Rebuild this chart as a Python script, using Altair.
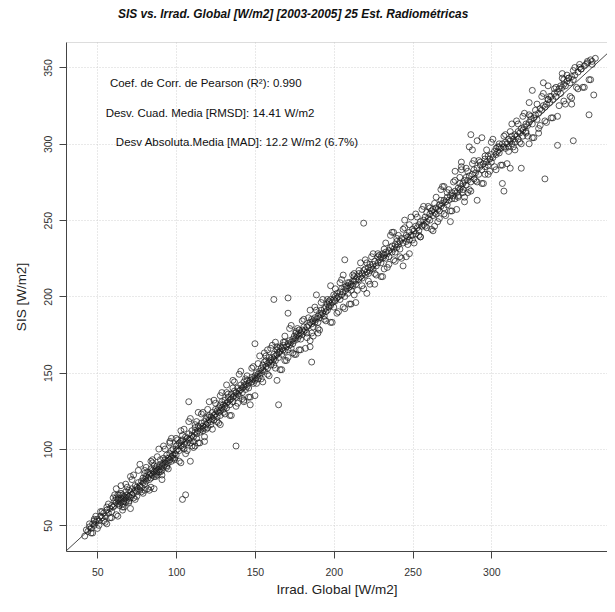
import altair as alt
import pandas as pd

pts_a = [(42,43),(43,47),(44,46),(45,49),(46,48),(47,51),(48,50),(48,53),(49,52),(50,54),(51,53),
         (52,56),(53,55),(54,58),(55,56),(56,51),(56,60),(57,58),(58,61),(59,59),(59,63),(60,62)]
pts_b = [(61,66),(61,63),(62,65),(62,68),(63,64),(63,67),(63,70),(64,66),(64,63),(65,68),(65,65),
         (65,71),(66,67),(66,64),(66,70),(67,66),(67,69),(68,68),(68,65),(68,72),(69,67),(69,70),
         (70,69),(70,66),(70,73),(71,72),(71,68),(72,70),(72,74),(73,71),(73,68),(74,73),(74,76),
         (75,72),(75,75),(76,74),(76,78),(77,73),(77,76),(78,75),(78,79),(62,74),(71,82),(66,60)]
pts_c = [(79,78),(79,81),(80,80),(80,77),(80,84),(81,82),(81,79),(82,81),(82,85),(83,80),(83,83),
         (84,84),(84,81),(84,87),(85,83),(85,86),(86,85),(86,82),(86,89),(87,84),(87,87),(88,86),
         (88,89),(88,83),(89,88),(89,85),(90,87),(90,90),(90,93),(91,89),(91,86),(92,91),(92,88),
         (92,94),(93,90),(93,93),(94,92),(94,89),(94,96),(95,94),(95,91),(96,93),(96,97),(97,95),
         (97,92),(97,99),(98,96),(98,100),(99,97),(99,94),(100,99),(100,102),(100,96),(85,91),
         (80,73),(91,80),(96,104),(84,75)]
pts_d = [(101,100),(101,103),(102,99),(102,104),(103,102),(103,105),(104,101),(104,67),(106,70),
         (104,106),(105,103),(105,100),(106,105),(106,108),(107,104),(107,107),(108,106),(108,131),
         (108,110),(109,92),(109,107),(109,104),(110,109),(110,112),(111,108),(111,105),(112,111),
         (112,102),(112,114),(113,110),(113,107),(114,112),(114,115),(115,111),(115,114),(116,113),
         (116,117),(117,112),(117,115),(118,114),(118,118),(119,116),(119,120),(120,117),(120,114),
         (120,121),(121,119),(121,122),(122,118),(122,121),(123,120),(123,124),(124,119),(124,122),
         (125,123),(125,126),(103,112),(118,108),(114,124)]
pts_e = [(126,121),(126,125),(127,124),(127,127),(128,125),(128,122),(128,129),(129,127),(129,131),
         (130,126),(130,129),(131,128),(131,132),(132,130),(132,142),(132,127),(133,131),(133,134),
         (134,129),(134,132),(135,133),(135,136),(136,131),(136,134),(137,135),(137,138),(138,102),
         (138,134),(138,137),(139,136),(139,140),(140,138),(140,135),(141,139),(141,142),(142,137),
         (142,140),(143,141),(143,144),(144,139),(144,142),(145,141),(145,145),(146,143),(146,140),
         (147,129),(147,145),(148,144),(148,147),(149,146),(149,143),(150,148),(150,169),(150,145),
         (128,116),(136,145),(143,132)]
pts_f = [(151,147),(151,150),(152,149),(152,146),(153,151),(153,148),(154,150),(154,153),(155,152),
         (155,155),(156,151),(156,157),(157,154),(157,158),(158,156),(158,153),(159,157),(159,160),
         (160,155),(160,158),(161,160),(161,157),(162,198),(162,159),(162,162),(163,161),(163,158),
         (164,145),(164,162),(164,165),(165,129),(165,160),(165,163),(166,164),(166,167),(167,162),
         (167,166),(168,165),(168,168),(169,164),(169,170),(170,167),(171,199),(171,189),(171,165),
         (171,169),(172,168),(172,171),(173,170),(173,166),(174,172),(174,169),(175,171),(175,174),
         (176,173),(176,176),(177,172),(177,175),(178,174),(178,178),(179,176),(179,172),(180,175),
         (180,178),(158,165),(169,158),(176,162),(163,170)]
pts_g = [(181,177),(181,180),(182,178),(183,180),(183,176),(184,181),(185,167),(185,171),(185,183),
         (186,157),(186,182),(186,185),(187,184),(187,180),(188,186),(188,183),(189,201),(189,185),
         (190,187),(190,183),(191,186),(191,189),(192,188),(192,191),(193,189),(194,192),(194,187),
         (195,190),(195,193),(196,195),(196,191),(197,193),(197,196),(198,194),(198,198),(199,196),
         (200,198),(200,193),(201,197),(201,200),(202,199),(202,202),(203,200),(204,198),(204,203),
         (205,201),(205,205),(206,203),(207,224),(207,200),(207,206),(208,205),(209,202),(209,207),
         (210,206),(210,209),(211,204),(211,208),(212,210),(212,207),(213,210),(213,213),(214,208),
         (214,211),(215,213),(190,176),(198,207),(206,214),(213,201)]
pts_h = [(216,211),(216,215),(217,213),(218,215),(218,212),(219,248),(219,217),(220,214),(220,218),
         (221,202),(221,216),(222,219),(222,215),(223,217),(223,221),(224,219),(225,221),(225,218),
         (226,208),(226,223),(227,220),(228,222),(228,226),(229,224),(230,222),(230,226),(231,225),
         (231,228),(232,227),(233,225),(233,229),(234,228),(235,230),(235,226),(236,232),(237,229),
         (237,233),(238,231),(239,234),(239,229),(240,232),(240,236),(241,234),(242,236),(242,231),
         (243,238),(244,235),(244,220),(245,250),(245,238),(246,236),(246,240),(247,239),(248,242),
         (248,237),(249,240),(250,244),(250,240),(251,243),(252,246),(252,241),(253,245),(254,247),
         (254,243),(255,249),(256,246),(257,250),(257,247),(258,252),(259,249),(259,255),(260,251),
         (232,218),(238,242),(248,228),(255,239)]
pts_i = [(261,254),(261,250),(262,256),(263,253),(263,257),(264,255),(265,258),(265,254),(266,257),
         (267,260),(267,256),(268,259),(268,263),(269,261),(270,258),(270,263),(271,262),(272,265),
         (272,260),(273,263),(274,249),(274,266),(275,264),(275,268),(276,266),(277,269),(277,264),
         (278,268),(279,271),(279,266),(280,270),(280,274),(281,288),(281,272),(281,285),(282,274),
         (282,270),(283,262),(283,276),(284,273),(284,278),(285,276),(286,298),(286,279),(287,306),
         (287,275),(288,296),(288,280),(289,277),(289,283),(290,281),(291,263),(291,302),(291,284),
         (292,280),(293,286),(294,304),(294,283),(295,287),(296,285),(296,290),(297,288),(298,292),
         (298,286),(299,290),(300,293),(300,288),(264,246),(270,272),(277,282),(285,268),(296,280)]
pts_j = [(301,291),(302,295),(303,293),(303,297),(304,295),(305,298),(305,294),(306,297),(307,274),
         (307,300),(308,269),(308,298),(309,301),(309,297),(310,300),(311,303),(311,298),(312,284),
         (312,302),(313,305),(313,300),(314,303),(315,306),(315,301),(316,305),(317,308),(317,303),
         (318,307),(319,284),(319,310),(320,309),(320,305),(321,311),(322,313),(322,308),(323,312),
         (324,327),(324,314),(324,300),(325,316),(326,335),(326,313),(327,317),(328,319),(329,316),
         (330,307),(330,320),(331,323),(332,322),(333,340),(333,325),(334,277),(334,324),(335,326),
         (336,338),(336,329),(337,327),(338,331),(339,329),(340,333),(341,331),(342,299),(342,334),
         (343,336),(344,333),(345,346),(345,337),(346,342),(346,339),(347,338),(348,341),(349,343),
         (350,340),(351,326),(351,344),(352,302),(352,342),(353,345),(355,347),(356,352),(357,349),
         (359,351),(361,353),(362,319),(363,355),(364,352),(365,332),(366,356)]
# wider scatter around the central band
pts_w1 = [(45,51),(47,45),(49,56),(51,50),(53,59),(55,52),(57,64),(59,55),(61,70),(63,56),(65,76),
          (67,62),(69,75),(71,61),(73,83),(75,69),(77,90),(79,71),(81,88),(83,73),(85,93),(87,82),
          (89,100),(91,83),(93,100),(95,87),(97,107),(99,93),(101,106),(103,91),(105,113),(107,99),
          (109,120),(111,101),(113,118),(115,104),(117,124),(119,113),(121,131),(123,113),(125,130),
          (127,117),(129,137),(131,123),(133,136),(135,122),(137,144),(139,130),(141,151),(143,131),
          (145,148),(147,134),(149,154),(151,143),(153,161),(155,144),(157,161),(159,148),(161,168),
          (163,153),(165,166),(167,152),(169,174),(171,160),(173,181),(175,162),(177,179),(179,165),
          (181,185),(183,173),(185,191),(187,174),(189,191),(191,178),(193,198),(195,184),(197,197),
          (199,183),(201,205),(203,190),(205,211),(207,192),(209,209),(211,195),(213,215),(215,204),
          (217,222),(219,205),(221,222),(223,208),(225,228),(227,214),(229,227),(231,213),(233,235),
          (235,221),(237,242),(239,223),(241,240),(243,225),(245,245),(247,234),(249,252),(251,235),
          (253,252),(255,239),(257,259),(259,245),(261,258),(263,243),(265,265),(267,251),(269,272),
          (271,253),(273,270),(275,256),(277,276),(279,265),(281,283),(283,265),(285,282),(287,269),
          (289,289),(291,275),(293,288),(295,274),(297,296),(299,282),(301,303),(303,283),(305,300),
          (307,286),(309,306),(311,295),(313,313),(315,296),(317,313),(319,300),(321,320),(323,305),
          (325,318),(327,304),(329,326),(331,312),(333,333),(335,314),(337,331),(339,317),(341,337),
          (343,325),(345,343),(347,326),(349,343),(351,330),(353,350),(355,336),(357,349),(359,337),
          (361,354),(363,342)]
pts_w2 = [(46,45),(48,54),(50,48),(52,59),(54,53),(56,62),(58,55),(60,68),(62,57),(64,70),(66,62),
          (68,77),(70,65),(72,80),(74,67),(76,86),(78,72),(80,86),(82,74),(84,92),(86,74),(88,95),
          (90,85),(92,102),(94,88),(96,105),(98,94),(100,107),(102,92),(104,109),(106,97),(108,118),
          (110,102),(112,116),(114,104),(116,123),(118,105),(120,126),(122,116),(124,132),(126,118),
          (128,135),(130,124),(132,137),(134,122),(136,140),(138,128),(140,149),(142,133),(144,146),
          (146,134),(148,153),(150,135),(152,156),(154,146),(156,163),(158,149),(160,166),(162,155),
          (164,167),(166,152),(168,170),(170,158),(172,179),(174,163),(176,177),(178,165),(180,184),
          (182,166),(184,186),(186,176),(188,193),(190,179),(192,196),(194,185),(196,198),(198,183),
          (200,201),(202,189),(204,209),(206,193),(208,207),(210,195),(212,214),(214,196),(216,217),
          (218,207),(220,224),(222,210),(224,226),(226,215),(228,228),(230,213),(232,231),(234,219),
          (236,240),(238,224),(240,238),(242,226),(244,244),(246,226),(248,247),(250,237),(252,254),
          (254,240),(256,257),(258,246),(260,259),(262,244),(264,261),(266,249),(268,270),(270,254),
          (272,268),(274,256),(276,275),(278,257),(280,278),(282,268),(284,284),(286,270),(288,287),
          (290,276),(292,289),(294,274),(296,292),(298,280),(300,301),(302,285),(304,298),(306,286),
          (308,305),(310,287),(312,308),(314,298),(316,315),(318,301),(320,318),(322,307),(324,319),
          (326,304),(328,322),(330,310),(332,331),(334,315),(336,329),(338,317),(340,336),(342,318),
          (344,338),(346,328),(348,345),(350,331),(352,348),(354,337),(356,350),(358,337),(360,352),
          (362,342),(364,354)]

# ---- fitted line drawn across the panel ----
fit_slope = 0.949
fit_intercept = 4.6

# ---- axes ----
x_domain = [30.1, 373.4]
y_domain = [33.2, 366.7]
x_ticks = [50, 100, 150, 200, 250, 300]
y_ticks = [50, 100, 150, 200, 250, 300, 350]

# ---- annotation texts (positions in data units) ----
ann_text = ["Coef. de Corr. de Pearson (R²): 0.990",
            "Desv. Cuad. Media [RMSD]:  14.41 W/m2",
            "Desv Absoluta.Media [MAD]:  12.2 W/m2 (6.7%)"]
ann_x = [118.8, 121.5, 138.6]
ann_y = [339.5, 319.8, 300.5]

all_pts = (pts_a + pts_b + pts_c + pts_d + pts_e + pts_f + pts_g + pts_h + pts_i + pts_j
           + pts_w1 + pts_w2)
df = pd.DataFrame(all_pts, columns=["irrad", "sis"])
line_df = pd.DataFrame({"irrad": x_domain,
                        "sis": [fit_slope * v + fit_intercept for v in x_domain]})
ann_df = pd.DataFrame({"t": ann_text, "x": ann_x, "y": ann_y})

FONT = "Liberation Sans"

xscale = alt.Scale(domain=x_domain, zero=False, nice=False)
yscale = alt.Scale(domain=y_domain, zero=False, nice=False)

xaxis = alt.Axis(values=x_ticks, title="Irrad. Global [W/m2]", grid=True,
                 gridColor="#c8c8c8", gridDash=[1, 2], gridWidth=0.8,
                 tickSize=7, tickColor="#444", domainColor="#444", domainWidth=1,
                 labelFont=FONT, labelFontSize=10.5, labelColor="#333", labelPadding=9,
                 titleFont=FONT, titleFontSize=13.5, titleFontWeight="normal",
                 titleColor="#222", titlePadding=5)
yaxis = alt.Axis(values=y_ticks, title="SIS [W/m2]", grid=True,
                 gridColor="#c8c8c8", gridDash=[1, 2], gridWidth=0.8,
                 tickSize=7, tickColor="#444", domainColor="#444", domainWidth=1,
                 labelAngle=-90, labelAlign="center", labelBaseline="bottom",
                 labelFont=FONT, labelFontSize=10.5, labelColor="#333", labelPadding=6,
                 titleFont=FONT, titleFontSize=13.5, titleFontWeight="normal",
                 titleColor="#222", titlePadding=15)

points = alt.Chart(df).mark_point(shape="circle", filled=False, size=36,
                                  strokeWidth=0.8, color="#1a1a1a", opacity=0.9,
                                  clip=True).encode(
    x=alt.X("irrad:Q", scale=xscale, axis=xaxis),
    y=alt.Y("sis:Q", scale=yscale, axis=yaxis),
)

fit = alt.Chart(line_df).mark_line(color="#333", strokeWidth=0.9, clip=True).encode(
    x=alt.X("irrad:Q", scale=xscale),
    y=alt.Y("sis:Q", scale=yscale),
)

ann = alt.Chart(ann_df).mark_text(font=FONT, fontSize=11.5, color="#111",
                                  align="center", baseline="middle").encode(
    x=alt.X("x:Q", scale=xscale),
    y=alt.Y("y:Q", scale=yscale),
    text="t:N",
)

chart = alt.layer(fit, points, ann).properties(
    width=541, height=509,
    title=alt.TitleParams("SIS vs. Irrad. Global [W/m2] [2003-2005] 25 Est. Radiométricas",
                          font=FONT, fontSize=11.9, fontWeight="bold", fontStyle="italic",
                          color="#111", anchor="start", frame="group", dx=52, offset=21),
    padding={"left": 58, "top": 34, "right": 0, "bottom": 47},
    autosize=alt.AutoSizeParams(type="none"),
).configure_view(stroke="#555", strokeWidth=1).configure(background="white")

chart.save("out.html", embed_options={"renderer": "svg", "actions": False})
